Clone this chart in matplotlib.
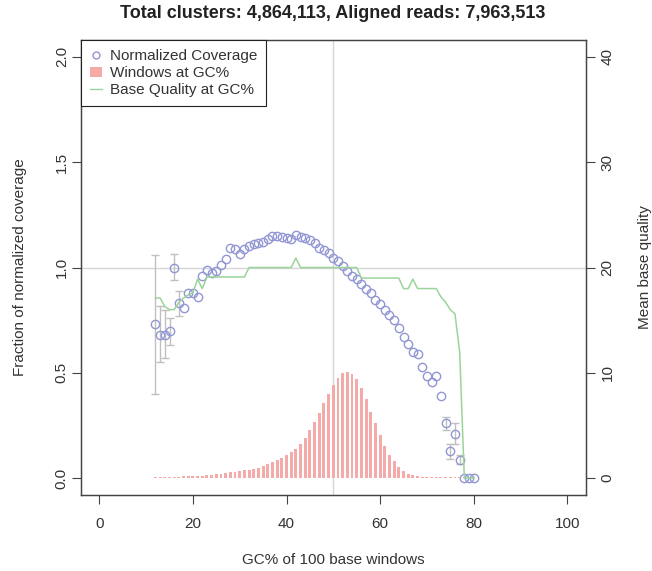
import matplotlib
matplotlib.use("Agg")
import matplotlib.pyplot as plt
from matplotlib.lines import Line2D
from matplotlib.patches import Patch
import numpy as np

plt.rcParams["font.family"] = ["Liberation Sans", "DejaVu Sans"]

# ── DATA ──────────────────────────────────────────────────────────────────────
TITLE = "Total clusters: 4,864,113, Aligned reads: 7,963,513"

gc = list(range(12, 81))

coverage = [
    0.73, 0.68, 0.68, 0.70, 1.00, 0.83, 0.81, 0.88, 0.88, 0.86,   # 12-21
    0.96, 0.99, 0.975, 0.985, 1.01, 1.04, 1.095, 1.09, 1.065, 1.09,  # 22-31
    1.10, 1.11, 1.115, 1.12, 1.135, 1.15, 1.15, 1.145, 1.14, 1.135,  # 32-41
    1.155, 1.145, 1.14, 1.13, 1.115, 1.095, 1.085, 1.07, 1.045, 1.03,  # 42-51
    1.005, 0.985, 0.96, 0.945, 0.92, 0.90, 0.88, 0.845, 0.825, 0.80,  # 52-61
    0.775, 0.75, 0.715, 0.67, 0.635, 0.60, 0.59, 0.53, 0.485, 0.455,  # 62-71
    0.485, 0.39, 0.26, 0.13, 0.21, 0.085, 0.0, 0.0, 0.0,             # 72-80
]

windows = [
    0.005, 0.005, 0.005, 0.006, 0.006, 0.007, 0.008, 0.009, 0.010, 0.011,  # 12-21
    0.012, 0.014, 0.016, 0.018, 0.021, 0.024, 0.027, 0.030, 0.034, 0.037,  # 22-31
    0.041, 0.045, 0.050, 0.057, 0.065, 0.075, 0.087, 0.097, 0.108, 0.122,  # 32-41
    0.140, 0.163, 0.190, 0.228, 0.268, 0.310, 0.355, 0.400, 0.440, 0.475,  # 42-51
    0.498, 0.505, 0.495, 0.470, 0.428, 0.375, 0.315, 0.260, 0.205, 0.155,  # 52-61
    0.112, 0.080, 0.053, 0.034, 0.022, 0.014, 0.009, 0.007, 0.005, 0.004,  # 62-71
    0.004, 0.004, 0.004, 0.004, 0.004, 0.004, 0.004, 0.004, 0.004,         # 72-80
]

quality = [
    17.1, 17.1, 16.3, 16.0, 16.0, 16.7, 17.1, 17.4, 17.6, 18.9,   # 12-21
    18.0, 19.1, 19.1, 19.1, 19.1, 19.1, 19.1, 19.1, 19.1, 19.1,   # 22-31
    20.0, 20.0, 20.0, 20.0, 20.0, 20.0, 20.0, 20.0, 20.0, 20.0,   # 32-41
    20.9, 20.0, 20.0, 20.0, 20.0, 20.0, 20.0, 20.0, 20.0, 20.0,   # 42-51
    20.0, 20.0, 20.0, 20.0, 19.0, 19.0, 19.0, 19.0, 19.0, 19.0,   # 52-61
    19.0, 19.0, 19.0, 18.0, 18.0, 18.9, 18.0, 18.0, 18.0, 18.0,   # 62-71
    18.0, 17.2, 16.7, 16.0, 15.6, 12.0, 0.0, 0.0, 0.0,            # 72-80
]

err_gc = [12, 13, 14, 15, 16, 17, 74, 75, 76, 77]
err_lo = [0.40, 0.55, 0.57, 0.63, 0.94, 0.77, 0.23, 0.09, 0.16, 0.066]
err_hi = [1.06, 0.815, 0.80, 0.76, 1.065, 0.89, 0.29, 0.16, 0.26, 0.11]

x_ticks = [0, 20, 40, 60, 80, 100]
y_ticks = [0.0, 0.5, 1.0, 1.5, 2.0]
q_ticks = [0, 10, 20, 30, 40]

# ── STYLE ─────────────────────────────────────────────────────────────────────
COV_COLOR = "#9297D4"
WIN_COLOR = "#F5AAAA"
QUAL_COLOR = "#9AD49A"
ERR_COLOR = "#C0C0C0"
REF_COLOR = "#D6D6D6"
FRAME = "#444444"
TXT = "#333333"
FS = 11

fig = plt.figure(figsize=(6.52, 5.71), dpi=100)
ax = fig.add_axes([0.1236, 0.1331, 0.7752, 0.7968])

ax.bar(gc, windows, width=0.62, color=WIN_COLOR, linewidth=0, zorder=2)
ax.axvline(50, color=REF_COLOR, linewidth=1.0, zorder=1)
ax.axhline(1.0, color=REF_COLOR, linewidth=1.0, zorder=1)

# error bars around the coverage points
cov_at = dict(zip(gc, coverage))
err_mid = [cov_at[g] for g in err_gc]
yerr = [np.array(err_mid) - np.array(err_lo), np.array(err_hi) - np.array(err_mid)]
ax.errorbar(err_gc, err_mid, yerr=yerr, fmt="none", ecolor=ERR_COLOR,
            elinewidth=1.0, capsize=3, capthick=1.0, zorder=3)

ax.plot(gc, coverage, linestyle="none", marker="o", markersize=6.0,
        markerfacecolor="none", markeredgecolor=COV_COLOR, markeredgewidth=1.0,
        zorder=5)

ax.set_xlim(-4, 104)
ax.set_ylim(-0.08, 2.08)
ax.set_xticks(x_ticks)
ax.set_yticks(y_ticks)
ax.set_yticklabels([f"{v:.1f}" for v in y_ticks], rotation=90, va="center")
ax.tick_params(axis="both", labelsize=FS, length=6.5, width=0.8,
               color=FRAME, labelcolor=TXT)
ax.tick_params(axis="x", pad=9)
ax.tick_params(axis="y", pad=2)
for s in ax.spines.values():
    s.set_color(FRAME)
    s.set_linewidth(0.9)

ax.set_xlabel("GC% of 100 base windows", fontsize=FS, color=TXT, labelpad=16)
ax.set_ylabel("Fraction of normalized coverage", fontsize=FS, color=TXT,
              labelpad=20)

ax2 = ax.twinx()
ax2.plot(gc, quality, color=QUAL_COLOR, linewidth=1.1, zorder=4)
ax2.set_ylim(-1.6, 41.6)
ax2.set_yticks(q_ticks)
ax2.set_yticklabels([str(v) for v in q_ticks], rotation=90, va="center")
ax2.tick_params(axis="y", labelsize=FS, length=6.5, width=0.8, pad=4,
                color=FRAME, labelcolor=TXT)
for s in ax2.spines.values():
    s.set_color(FRAME)
    s.set_linewidth(0.9)
ax2.set_ylabel("Mean base quality", fontsize=FS, color=TXT, labelpad=17)

handles = [
    Line2D([], [], linestyle="none", marker="o", markersize=5,
           markerfacecolor="none", markeredgecolor=COV_COLOR, markeredgewidth=1.0),
    Patch(facecolor=WIN_COLOR, edgecolor="none"),
    Line2D([], [], color=QUAL_COLOR, linewidth=1.0),
]
labels = ["Normalized Coverage", "Windows at GC%", "Base Quality at GC%"]
leg = ax2.legend(handles, labels, loc="upper left", borderaxespad=0,
                 fontsize=FS, frameon=True, fancybox=False, framealpha=1,
                 edgecolor="#222222", handlelength=0.8, handleheight=0.6,
                 handletextpad=0.5, labelspacing=0.2, borderpad=0.6)
leg.get_frame().set_linewidth(0.8)
for t in leg.get_texts():
    t.set_color(TXT)

fig.text(0.511, 1 - 14 / 571, TITLE, ha="center", va="center",
         fontsize=13, fontweight="bold", color="#222222")

fig.savefig("out.png", dpi=100)
